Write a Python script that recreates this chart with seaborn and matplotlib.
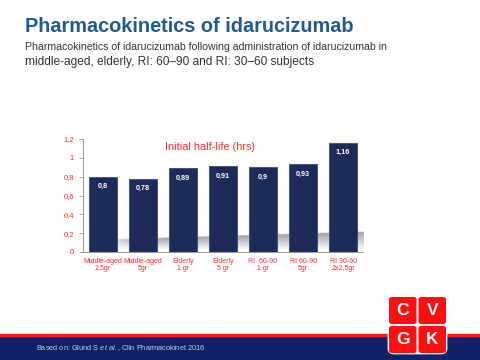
import numpy as np
import pandas as pd
import matplotlib
matplotlib.use("Agg")
import matplotlib.pyplot as plt
from matplotlib.patches import Rectangle, FancyBboxPatch
import seaborn as sns

categories = ["Middle-aged\n2,5gr", "Middle-aged\n5gr", "Elderly\n1 gr", "Elderly\n5 gr",
              "RI  60-90\n1 gr", "RI 60-90\n5gr", "RI 30-60\n2x2,5gr"]
half_life = [0.80, 0.78, 0.89, 0.91, 0.90, 0.93, 1.16]
value_labels = ["0,8", "0,78", "0,89", "0,91", "0,9", "0,93", "1,16"]
y_ticks = [0, 0.2, 0.4, 0.6, 0.8, 1.0, 1.2]
y_tick_labels = ["0", "0,2", "0,4", "0,6", "0,8", "1", "1,2"]

sns.set_style("white")
plt.rcParams['font.family'] = ['Liberation Sans', 'DejaVu Sans']
plt.rcParams['mathtext.fontset'] = 'custom'
plt.rcParams['mathtext.rm'] = 'Liberation Sans'
plt.rcParams['mathtext.it'] = 'Liberation Sans:italic'

RED = "#ff2a2a"
NAVY = "#1c2b58"

fig = plt.figure(figsize=(4.8, 3.6), dpi=100)
fig.patch.set_facecolor("white")

# Header
fig.text(25/480, 1 - 27/360, "Pharmacokinetics of idarucizumab", fontsize=14.3, fontweight="bold",
         color="#1f5a94", ha="left", va="center")
fig.text(25/480, 1 - 47/360, "Pharmacokinetics of idarucizumab following administration of idarucizumab in",
         fontsize=7.6, color="#333333", ha="left", va="center")
fig.text(25/480, 1 - 62/360, "middle-aged, elderly, RI: 60\u201390 and RI: 30\u201360 subjects",
         fontsize=8.6, color="#333333", ha="left", va="center")

# Footer
fig.patches.append(Rectangle((0, 0), 1, 24/360, transform=fig.transFigure, color="#0f2266", zorder=1))
fig.patches.append(Rectangle((0, 24/360), 1, 2.5/360, transform=fig.transFigure, color="#ff1a1a", zorder=1))
fig.text(36/480, 12/360, "Based on: Glund S $\\it{et\\ al.}$, Clin Pharmacokinet 2016", fontsize=5.3,
         color="#c8cce0", ha="left", va="center", zorder=3)

# Logo
lx0, ly0, lw, lh = 389/480, 7/360, 57/480, 56/360
fig.patches.append(FancyBboxPatch((lx0, ly0), lw, lh, boxstyle="round,pad=0,rounding_size=0.012",
                                  transform=fig.transFigure, facecolor="white", edgecolor="white",
                                  linewidth=2, zorder=4))
gap_x, gap_y = 2/480, 2/360
cw, ch = (lw - gap_x) / 2, (lh - gap_y) / 2
letters = ["G", "K", "C", "V"]
k = 0
for j in range(2):
    for i in range(2):
        cx = lx0 + i * (cw + gap_x)
        cy = ly0 + j * (ch + gap_y)
        fig.patches.append(FancyBboxPatch((cx, cy), cw, ch, boxstyle="round,pad=0,rounding_size=0.006",
                                          transform=fig.transFigure, facecolor="#ff1010",
                                          edgecolor="none", zorder=5))
        fig.text(cx + cw/2, cy + ch/2, letters[k], fontsize=12.5, fontweight="bold", color="white",
                 ha="center", va="center", zorder=6)
        k += 1

# Chart
ax = fig.add_axes([83/480, 108/360, 280/480, 113/360])
df = pd.DataFrame({"group": categories, "value": half_life})

# floor shadow (decorative gradient)
x0s, x1s = -0.1, 6.55
gx = np.linspace(x0s, x1s, 300)
gy = np.linspace(0.22, 0.0, 80)
GX, GY = np.meshgrid(gx, gy)
top = 0.13 + 0.085 * (GX - x0s) / (x1s - x0s)
bot = 0.025
t = np.clip((GY - bot) / (top - bot), 0, 1)
alpha = t ** 0.9
alpha[GY > top] = 0
alpha *= np.clip((GX - x0s) / 1.0, 0, 1)
grad = np.zeros(GX.shape + (4,))
grad[..., 0:3] = 0.55
grad[..., 3] = alpha * 0.8
ax.imshow(grad, extent=[x0s, x1s, 0, 0.22], aspect="auto", zorder=0.5, interpolation="bilinear")

sns.barplot(data=df, x="group", y="value", color=NAVY, width=0.7, saturation=1,
            edgecolor="#3a4a78", linewidth=0.6, ax=ax, zorder=2)
ax.bar_label(ax.containers[0], labels=value_labels, padding=-9.5, color="white",
             fontsize=5.2, fontweight="bold", zorder=3)

ax.set_xlim(-0.5, 6.5)
ax.set_ylim(0, 1.2)
ax.set_yticks(y_ticks)
ax.set_yticklabels(y_tick_labels)
ax.set_xlabel("")
ax.set_ylabel("")
ax.tick_params(axis="y", colors="#999999", labelcolor=RED, labelsize=5.5, length=3, width=0.6, left=True)
ax.tick_params(axis="x", colors="#999999", labelcolor=RED, labelsize=5.0, length=0, pad=4)
for lbl in ax.get_xticklabels():
    lbl.set_linespacing(1.15)
for s in ["top", "right"]:
    ax.spines[s].set_visible(False)
for s in ["left", "bottom"]:
    ax.spines[s].set_color("#999999")
    ax.spines[s].set_linewidth(0.7)
ax.set_facecolor("none")

ax.text(2.68, 1.11, "Initial half-life (hrs)", color=RED, fontsize=7.8, ha="center", va="center")

fig.savefig("out.png", dpi=100, facecolor="white")
